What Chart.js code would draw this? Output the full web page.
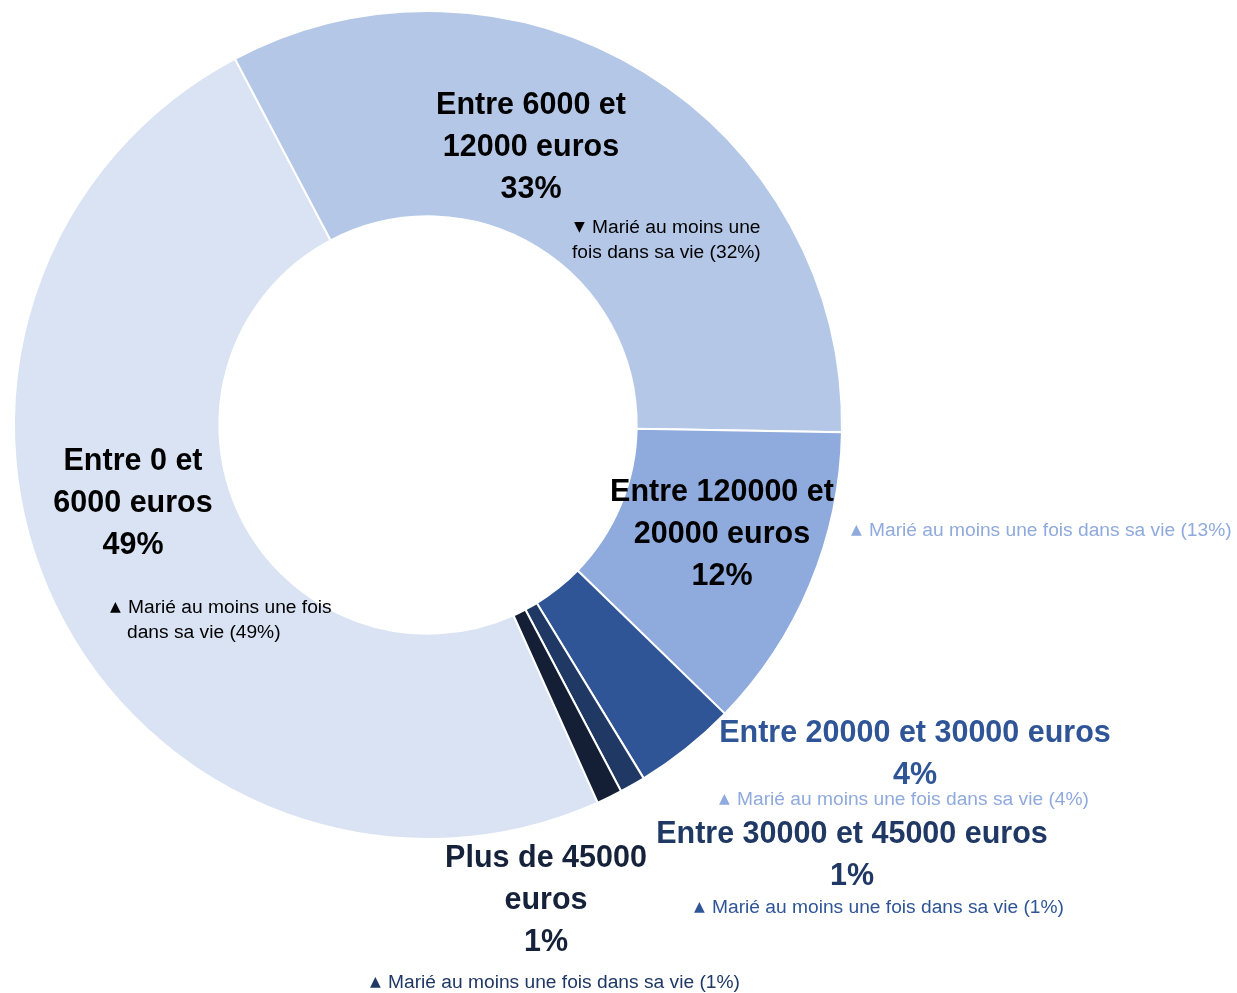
<!DOCTYPE html>
<html>
<head>
<meta charset="utf-8">
<script src="https://cdn.jsdelivr.net/npm/chart.js@4.4.1/dist/chart.umd.min.js"></script>
<style>
  body { margin: 0; background: #fff; }
  #wrap { width: 1237px; height: 993px; position: relative; }
</style>
</head>
<body>
<div id="wrap"><canvas id="myChart"></canvas></div>
<script>
// data
const categories = ['Entre 0 et 6000 euros', 'Entre 6000 et 12000 euros', 'Entre 120000 et 20000 euros',
    'Entre 20000 et 30000 euros', 'Entre 30000 et 45000 euros', 'Plus de 45000 euros'];
const shares = [49, 33, 12, 4, 1, 1];          // % of people
const marriedShares = [49, 32, 13, 4, 1, 1];   // % married at least once
const trend = ['▲', '▼', '▲', '▲', '▲', '▲'];

const sliceColors = ['#DAE3F3', '#B4C7E7', '#8FAADC', '#2F5597', '#1F3864', '#141F36'];
const nameColors = ['#000000', '#000000', '#000000', '#2F5597', '#1F3864', '#16223A'];
const marriedColors = ['#000000', '#000000', '#8FAADC', '#8FAADC', '#2F5597', '#1F3864'];

// label layout (where each label sits, how the words break)
const labelLayout = [
    { x: 133, y: 462, breakAt: 3, mx: 110, my: 608, mBreak: 5, m2x: 127 },
    { x: 531, y: 106, breakAt: 3, mx: 574, my: 228, mBreak: 4, m2x: 572 },
    { x: 722, y: 493, breakAt: 3, mx: 851, my: 531, mBreak: 0 },
    { x: 915, y: 734, breakAt: 0, mx: 719, my: 800, mBreak: 0 },
    { x: 852, y: 835, breakAt: 0, mx: 694, my: 908, mBreak: 0 },
    { x: 546, y: 859, breakAt: 3, mx: 370, my: 983, mBreak: 0 }
];

function splitWords(text, n) {
    if (!n) return [text];
    const w = text.split(' ');
    return [w.slice(0, n).join(' '), w.slice(n).join(' ')];
}

const labelPlugin = {
    id: 'sliceLabels',
    afterDraw(chart) {
        const ctx = chart.ctx;
        ctx.save();
        ctx.textBaseline = 'middle';
        categories.forEach((cat, i) => {
            const lay = labelLayout[i];
            // name + share
            const lines = splitWords(cat, lay.breakAt).concat([shares[i] + '%']);
            ctx.font = 'bold 30.5px "Liberation Sans", Arial, sans-serif';
            ctx.textAlign = 'center';
            ctx.fillStyle = nameColors[i];
            lines.forEach((l, k) => ctx.fillText(l, lay.x, lay.y + k * 42));

            // married line(s)
            const mText = 'Marié au moins une fois dans sa vie (' + marriedShares[i] + '%)';
            const mLines = splitWords(mText, lay.mBreak);
            ctx.textAlign = 'left';
            ctx.fillStyle = marriedColors[i];
            ctx.font = '14px "DejaVu Sans", sans-serif';
            ctx.fillText(trend[i], lay.mx, lay.my - 1);
            ctx.font = '19.2px "Liberation Sans", Arial, sans-serif';
            ctx.fillText(mLines[0], lay.mx + 18, lay.my);
            if (mLines[1]) ctx.fillText(mLines[1], lay.m2x, lay.my + 25);
        });
        ctx.restore();
    }
};

const config = {
    type: 'doughnut',
    data: {
        labels: categories,
        datasets: [{
            data: shares,
            backgroundColor: sliceColors,
            borderColor: '#ffffff',
            borderWidth: 2
        }]
    },
    options: {
        responsive: true,
        maintainAspectRatio: false,
        animation: false,
        rotation: 155.8,
        cutout: '50.4%',
        layout: {
            padding: { left: 13, right: 394, top: 10, bottom: 153 }
        },
        plugins: {
            legend: { display: false },
            tooltip: { enabled: false }
        }
    },
    plugins: [labelPlugin]
};

const myChart = new Chart(document.getElementById('myChart'), config);
</script>
</body>
</html>
